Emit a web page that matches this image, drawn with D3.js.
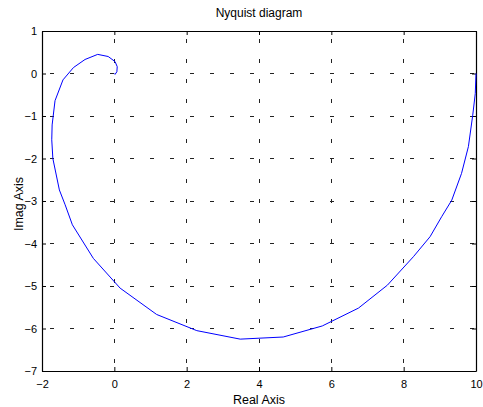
<!DOCTYPE html>
<html><head><meta charset="utf-8">
<script src="https://cdn.jsdelivr.net/npm/d3@7"></script>
<style>body{margin:0;background:#fff}svg{display:block}text{font-family:"Liberation Sans",Arial,sans-serif}</style>
</head><body><svg id="c" width="483" height="407"></svg>
<script>
const reals = [10, 9.98, 9.91, 9.79, 9.6, 9.33, 9.05, 8.73, 8.27, 7.55, 6.75, 5.75, 4.67, 3.48, 2.28, 1.17, 0.16, -0.58, -1.16, -1.36, -1.52, -1.70, -1.73, -1.72, -1.64, -1.42, -1.13, -0.81, -0.46, -0.17, 0.02, 0.08, 0.07, 0.02, 0];
const imags = [0, -0.47, -0.98, -1.72, -2.35, -2.98, -3.37, -3.84, -4.31, -4.98, -5.52, -5.94, -6.20, -6.25, -6.05, -5.67, -5.05, -4.35, -3.56, -3.09, -2.74, -2.0, -1.56, -1.21, -0.64, -0.15, 0.14, 0.33, 0.45, 0.40, 0.28, 0.16, 0.04, -0.02, 0];
const xTicks = [-2, 0, 2, 4, 6, 8, 10];
const yTicks = [-7, -6, -5, -4, -3, -2, -1, 0, 1];
const title = "Nyquist diagram", xLabel = "Real Axis", yLabel = "Imag Axis";

(function () {
const m = {l: 42, r: 7, t: 31, b: 36}, W = 483, H = 407;
const svg = d3.select("#c");
const x = d3.scaleLinear().domain([-2, 10]).range([m.l, W - m.r]);
const y = d3.scaleLinear().domain([-7, 1]).range([H - m.b, m.t]);

const g = svg.append("g");
g.selectAll(".gx").data(xTicks.slice(1, -1)).join("line")
  .attr("x1", d => x(d)).attr("x2", d => x(d)).attr("y1", y(1)).attr("y2", y(-7))
  .attr("stroke", "#222").attr("stroke-width", 1).attr("stroke-dasharray", "4,16").attr("stroke-dashoffset", -8)
  .attr("shape-rendering", "crispEdges");
g.selectAll(".gy").data(yTicks.slice(1, -1)).join("line")
  .attr("x1", x(-2)).attr("x2", x(10)).attr("y1", d => y(d)).attr("y2", d => y(d))
  .attr("stroke", "#222").attr("stroke-width", 1).attr("stroke-dasharray", "4,16").attr("stroke-dashoffset", -8)
  .attr("shape-rendering", "crispEdges");

const fmt = d3.format("d");
const aBottom = svg.append("g").attr("transform", `translate(0,${y(-7)})`)
  .call(d3.axisBottom(x).tickValues(xTicks).tickFormat(fmt).tickSizeInner(-4).tickSizeOuter(0).tickPadding(9));
const aTop = svg.append("g").attr("transform", `translate(0,${y(1)})`)
  .call(d3.axisTop(x).tickValues(xTicks).tickFormat("").tickSizeInner(-4).tickSizeOuter(0));
const aLeft = svg.append("g").attr("transform", `translate(${x(-2)},0)`)
  .call(d3.axisLeft(y).tickValues(yTicks).tickFormat(fmt).tickSizeInner(-4).tickSizeOuter(0).tickPadding(5));
const aRight = svg.append("g").attr("transform", `translate(${x(10)},0)`)
  .call(d3.axisRight(y).tickValues(yTicks).tickFormat("").tickSizeInner(-4).tickSizeOuter(0));
[aBottom, aTop, aLeft, aRight].forEach(a => {
  a.attr("font-family", null).attr("font-size", null);
  a.select(".domain").attr("stroke", "#000").attr("stroke-width", 1.2);
  a.selectAll(".tick line").attr("stroke", "#000");
  a.selectAll("text").attr("font-size", "11px").attr("fill", "#000");
});

const pts = reals.map((r, i) => [r, imags[i]]);
svg.append("path").datum(pts)
  .attr("d", d3.line().x(d => x(d[0])).y(d => y(d[1])))
  .attr("fill", "none").attr("stroke", "#0000ff").attr("stroke-width", 1);

svg.append("text").attr("x", (x(-2) + x(10)) / 2).attr("y", 17).attr("text-anchor", "middle")
  .attr("font-size", "12px").text(title);
svg.append("text").attr("x", (x(-2) + x(10)) / 2).attr("y", 404).attr("text-anchor", "middle")
  .attr("font-size", "12.5px").text(xLabel);
svg.append("text").attr("transform", `translate(23,${(y(1) + y(-7)) / 2 + 3}) rotate(-90)`).attr("text-anchor", "middle")
  .attr("font-size", "12.5px").text(yLabel);
})();
</script></body></html>
